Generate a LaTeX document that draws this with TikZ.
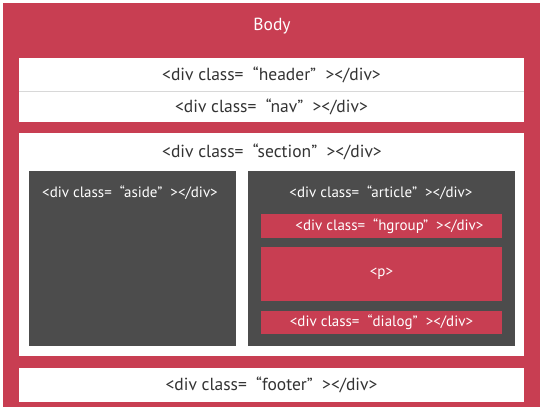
\documentclass[tikz,border=0pt]{standalone}
\usepackage{fontspec}
\setmainfont{PT Sans}
\definecolor{bodyred}{HTML}{C83E52}
\definecolor{darkbox}{HTML}{4C4C4C}
\definecolor{txtdark}{HTML}{333333}
\definecolor{divline}{HTML}{D8D8D8}
\tikzset{
  box/.style={anchor=north west, inner sep=0pt, outer sep=0pt},
  lbl/.style={inner sep=0pt, font=\fontsize{17.5}{19}\selectfont},
  slbl/.style={inner sep=0pt, font=\fontsize{15}{17}\selectfont, text=white},
  wlbl/.style={lbl, text=white},
  dlbl/.style={lbl, text=txtdark},
}
\newcommand{\bx}[6]{% name, fill, x1, y1, x2, y2
  \node[box, fill=#2, minimum width=#5pt-#3pt, minimum height=#6pt-#4pt] (#1) at (#3,#4) {};}
\newcommand{\dv}[1]{<div class=\ \ “#1”\ \ ></div>}
\begin{document}
\begin{tikzpicture}[x=1pt,y=-1pt]
\fill[white] (0,0) rectangle (545,407);
\useasboundingbox (0,0) rectangle (545,407);
\bx{body}{bodyred}{3}{3}{540}{407}
\node[wlbl] (bodyt) at (272,26) {Body};
\bx{header}{white}{19}{58}{524}{91}
\bx{nav}{white}{19}{91}{524}{122}
\draw[divline, line width=0.8pt] (header.south west) -- (header.south east);
\node[dlbl] (headert) at (header.center) {\dv{header}};
\node[dlbl] (navt) at (nav.center) {\dv{nav}};
\bx{section}{white}{19}{133}{524}{356}
\node[dlbl] (sectiont) at (272,152) {\dv{section}};
\bx{aside}{darkbox}{29}{171}{236}{346}
\node[slbl] (asidet) at (130,193) {\dv{aside}};
\bx{article}{darkbox}{248}{171}{515}{346}
\node[slbl] (articlet) at (381,193) {\dv{article}};
\bx{hgroup}{bodyred}{261}{214}{502}{238}
\node[slbl] (hgroupt) at ([xshift=8pt]hgroup.center) {\dv{hgroup}};
\bx{para}{bodyred}{261}{247}{502}{301}
\node[slbl] (parat) at (para.center) {<p>};
\bx{dialog}{bodyred}{261}{311}{502}{334}
\node[slbl] (dialogt) at (dialog.center) {\dv{dialog}};
\bx{footer}{white}{19}{368}{524}{402}
\node[dlbl] (footert) at (footer.center) {\dv{footer}};
\end{tikzpicture}
\end{document}
